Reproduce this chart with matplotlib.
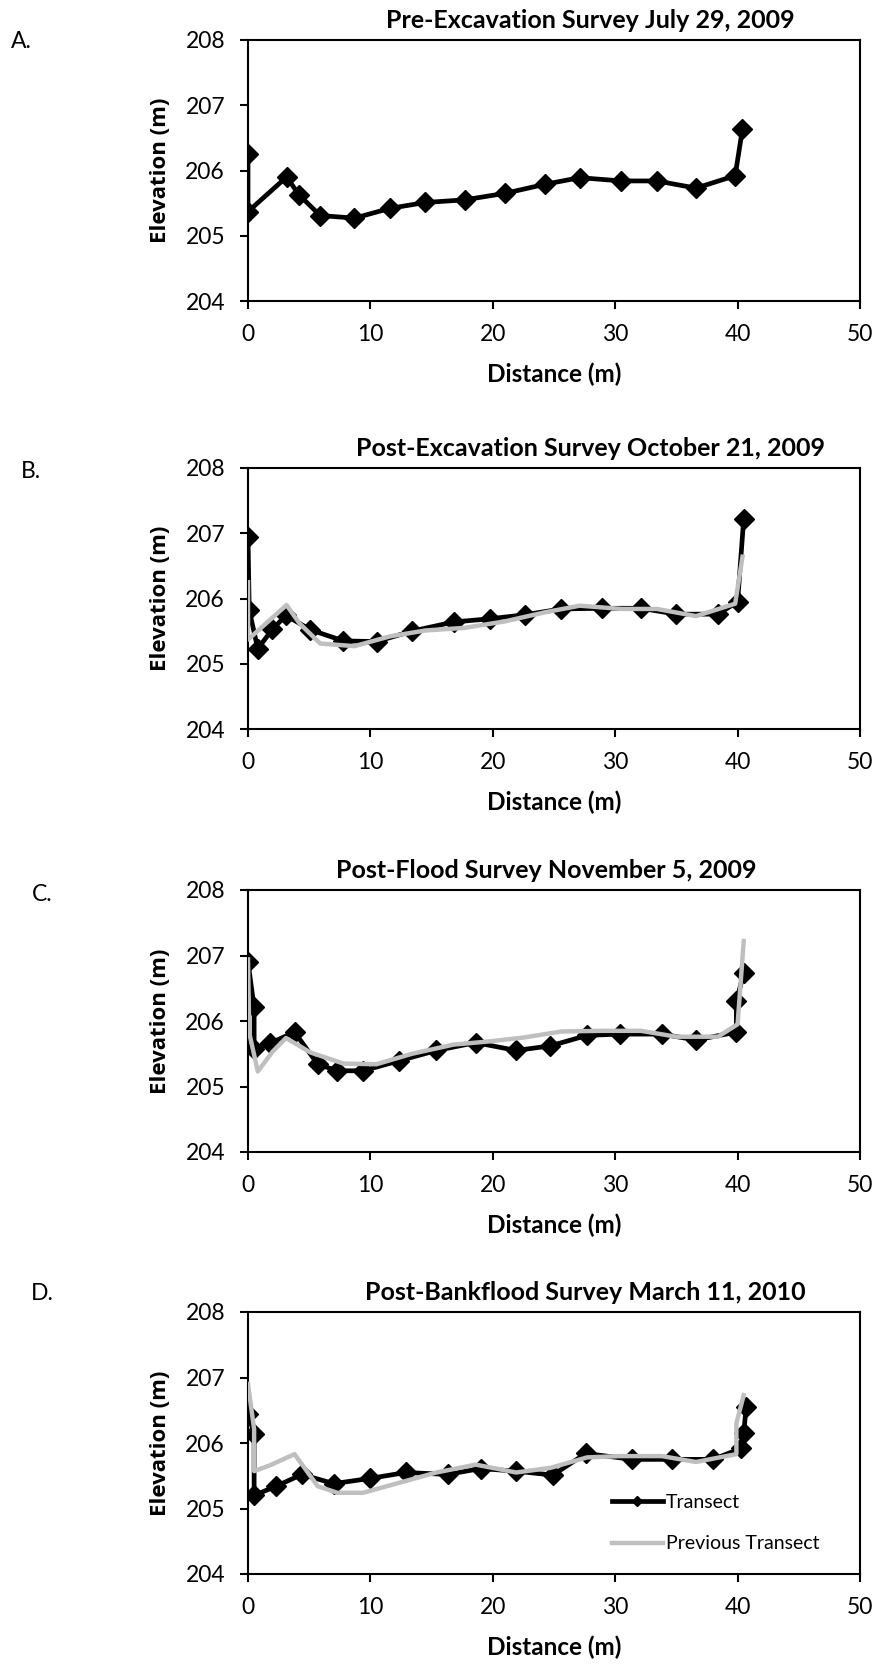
import matplotlib
matplotlib.use("Agg")
import matplotlib.pyplot as plt
from matplotlib.lines import Line2D

# survey data (distance m, elevation m)
pre_x = [0.0, 0.0, 3.15, 4.2, 5.9, 8.7, 11.6, 14.5, 17.7, 21.0, 24.3, 27.1, 30.5, 33.4, 36.6, 39.8, 40.4]
pre_y = [206.25, 205.37, 205.90, 205.62, 205.31, 205.27, 205.42, 205.51, 205.55, 205.65, 205.79, 205.89,
         205.84, 205.84, 205.73, 205.92, 206.64]

exc_x = [0.0, 0.1, 0.8, 2.0, 3.1, 5.1, 7.8, 10.5, 13.4, 16.8, 19.8, 22.6, 25.6, 28.9, 32.1, 35.0, 38.4, 40.0, 40.5]
exc_y = [206.94, 205.82, 205.23, 205.53, 205.74, 205.52, 205.35, 205.34, 205.50, 205.64, 205.69, 205.75,
         205.84, 205.85, 205.85, 205.76, 205.76, 205.95, 207.22]

flood_x = [0.0, 0.5, 0.5, 1.8, 3.8, 5.7, 7.3, 9.4, 12.3, 15.4, 18.6, 21.9, 24.7, 27.7, 30.4, 33.8, 36.6,
           39.9, 39.9, 40.5]
flood_y = [206.90, 206.21, 205.57, 205.66, 205.83, 205.34, 205.24, 205.24, 205.39, 205.55, 205.67, 205.55,
           205.62, 205.78, 205.80, 205.80, 205.71, 205.83, 206.30, 206.73]

bank_x = [0.0, 0.5, 0.5, 2.3, 4.4, 7.0, 10.0, 12.9, 16.3, 19.0, 21.9, 24.9, 27.6, 31.4, 34.6, 38.0, 40.3, 40.5, 40.7]
bank_y = [206.45, 206.14, 205.20, 205.34, 205.52, 205.38, 205.46, 205.55, 205.52, 205.61, 205.57, 205.51,
          205.84, 205.75, 205.75, 205.75, 205.92, 206.15, 206.55]

titles = ["Pre-Excavation Survey July 29, 2009",
          "Post-Excavation Survey October 21, 2009",
          "Post-Flood Survey November 5, 2009",
          "Post-Bankflood Survey March 11, 2010"]
letters = ["A.", "B.", "C.", "D."]
x_ticks = [0, 10, 20, 30, 40, 50]
y_ticks = [204, 205, 206, 207, 208]

current = [(pre_x, pre_y), (exc_x, exc_y), (flood_x, flood_y), (bank_x, bank_y)]
previous = [None, (pre_x, pre_y), (exc_x, exc_y), (flood_x, flood_y)]

W, H = 875, 1664
FONT = "Lato"
GRAY = "#bfbfbf"

# pixel layout: axes top/bottom, title centre, letter position
ax_tops = [40, 468, 890, 1312]
ax_bots = [301, 729, 1152, 1574]
title_pos = [(590, 21), (590, 449), (546, 871), (585, 1292)]
letter_pos = [(21, 41), (31, 471), (42, 895), (42, 1293)]
AX_L, AX_R = 248, 860

fig = plt.figure(figsize=(W / 100, H / 100), dpi=100)

def fx(px):
    return px / W

def fy(py):
    return 1 - py / H

for i in range(4):
    top, bot = ax_tops[i], ax_bots[i]
    ax = fig.add_axes([fx(AX_L), fy(bot), (AX_R - AX_L) / W, (bot - top) / H])
    cx, cy = current[i]
    ax.plot(cx, cy, color="black", lw=3.4, marker="D", ms=10, mfc="black", mec="black",
            label="Transect", zorder=3)
    if previous[i] is not None:
        px_, py_ = previous[i]
        ax.plot(px_, py_, color=GRAY, lw=3.2, label="Previous Transect", zorder=4)

    ax.set_xlim(0, 50)
    ax.set_ylim(204, 208)
    ax.set_xticks(x_ticks)
    ax.set_yticks(y_ticks)
    ax.tick_params(direction="out", length=5.5, width=1.5, labelsize=16.5, pad=11)
    for lab in ax.get_xticklabels() + ax.get_yticklabels():
        lab.set_family(FONT)
    for sp in ax.spines.values():
        sp.set_linewidth(1.5)

    fig.text(fx(title_pos[i][0]), fy(title_pos[i][1]), titles[i], ha="center", va="center",
             fontsize=18, fontweight="bold", family=FONT)
    fig.text(fx(letter_pos[i][0]), fy(letter_pos[i][1]), letters[i], ha="center", va="center",
             fontsize=16.5, family=FONT)
    fig.text(fx((AX_L + AX_R) / 2), fy(bot + 73), "Distance (m)", ha="center", va="center",
             fontsize=17.5, fontweight="bold", family=FONT)
    fig.text(fx(161), fy((top + bot) / 2), "Elevation (m)", ha="center", va="center",
             rotation=90, fontsize=16, fontweight="bold", family="Open Sans")

    if i == 3:
        handles = [Line2D([], [], color="black", lw=3.4, marker="D", ms=5.5, mfc="black"),
                   Line2D([], [], color=GRAY, lw=3.2)]
        ax.legend(handles, ["Transect", "Previous Transect"], loc="upper left",
                  bbox_to_anchor=(0.595, 0.305), frameon=False, borderaxespad=0, borderpad=0,
                  handlelength=2.6, handletextpad=0.15, labelspacing=1.25,
                  prop={"family": FONT, "size": 14})

fig.savefig("out.png", dpi=100)
